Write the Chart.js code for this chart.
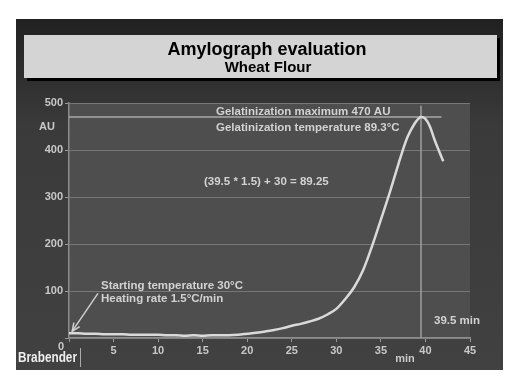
<!DOCTYPE html>
<html>
<head>
<meta charset="utf-8">
<script src="https://cdn.jsdelivr.net/npm/chart.js@4/dist/chart.umd.min.js"></script>
<style>
  html, body { margin: 0; padding: 0; background: #fff; }
  #wrap { width: 517px; height: 386px; }
</style>
</head>
<body>
<div id="wrap"><canvas id="AMYLOGRAPH"></canvas></div>
<script>
// data
var timeMin = [0, 1, 2, 3, 4, 5, 6, 7, 8, 9, 10, 11, 12, 13, 14, 15, 16, 17, 18, 19, 20,
    21, 22, 23, 24, 25, 26, 27, 28, 29, 30, 31, 32, 33, 34, 35, 36, 37, 37.5, 38, 38.5,
    39, 39.5, 40, 40.5, 41, 41.5, 42];
var viscosityAU = [10, 10, 9, 9, 8, 8, 8, 7, 7, 7, 7, 6, 6, 5, 6, 5, 6, 6, 6, 7, 9,
    11, 14, 17, 21, 26, 30, 35, 41, 50, 62, 83, 108, 144, 195, 252, 310, 372, 402, 428, 447,
    462, 470, 466, 450, 423, 399, 376];
var xTicks = [0, 5, 10, 15, 20, 25, 30, 35, 40, 45];
var yTicks = [0, 100, 200, 300, 400, 500];
var peakTime = 39.5;
var peakValue = 470;
var peakLineEnd = 41.8;   // horizontal max line stops here (min)
var peakLineTop = 494;    // vertical line top (AU)
var arrowFrom = [3.25, 95];
var arrowTo = [0.35, 14];

var curvePoints = timeMin.map((t, i) => ({ x: t, y: viscosityAU[i] }));

// background panel, title box, plot area
var panelPlugin = {
    id: 'panel',
    beforeDraw(chart) {
        const c = chart.ctx;
        const a = chart.chartArea;
        c.save();
        c.fillStyle = '#ffffff';
        c.fillRect(0, 0, chart.width, chart.height);
        var g = c.createLinearGradient(0, 19, 0, 370);
        g.addColorStop(0, '#212121');
        g.addColorStop(0.3, '#3a3a3a');
        g.addColorStop(1, '#414141');
        c.fillStyle = g;
        c.fillRect(16, 19, 487, 351);
        // title box with shadow
        c.fillStyle = '#000000';
        c.fillRect(27, 38, 473, 43);
        c.fillStyle = '#d4d4d4';
        c.fillRect(24, 35, 473, 43);
        c.fillStyle = '#000000';
        c.textAlign = 'center';
        c.textBaseline = 'middle';
        c.font = 'bold 18px "Liberation Sans", Arial, sans-serif';
        c.fillText('Amylograph evaluation', 267, 50);
        c.font = 'bold 15px "Liberation Sans", Arial, sans-serif';
        c.fillText('Wheat Flour', 268, 68);
        // plot background
        c.fillStyle = '#4e4e4e';
        c.fillRect(a.left, a.top, a.right - a.left, a.bottom - a.top);
        c.restore();
    },
    afterDraw(chart) {
        const c = chart.ctx;
        const xs = chart.scales.x, ys = chart.scales.y;
        c.save();
        c.fillStyle = '#d2d2d2';
        c.textBaseline = 'middle';
        c.textAlign = 'left';
        c.font = 'bold 11.5px "Liberation Sans", Arial, sans-serif';
        c.fillText('Gelatinization maximum 470 AU', 216, 112);
        c.fillText('Gelatinization temperature 89.3°C', 216, 128);
        c.fillText('(39.5 * 1.5) + 30 = 89.25', 204, 182);
        c.fillText('Starting temperature 30°C', 101, 286);
        c.fillText('Heating rate 1.5°C/min', 101, 299);
        c.fillText('39.5 min', 434, 321);
        c.font = 'bold 11px "Liberation Sans", Arial, sans-serif';
        c.fillStyle = '#c8c8c8';
        c.fillText('AU', 39, 127);
        c.textAlign = 'center';
        c.fillText('min', 405, 359);
        c.fillText('0', 61, 347);
        // Brabender logo text, squeezed to its width
        c.textAlign = 'left';
        c.fillStyle = '#eeeeee';
        c.font = 'bold 15px "Liberation Sans", Arial, sans-serif';
        var w = c.measureText('Brabender').width;
        c.save();
        c.translate(18, 358);
        c.scale(59 / w, 1);
        c.fillText('Brabender', 0, 0);
        c.restore();
        c.strokeStyle = '#aaaaaa';
        c.lineWidth = 1;
        c.beginPath();
        c.moveTo(80.5, 348);
        c.lineTo(80.5, 367);
        c.stroke();
        // arrow
        var x1 = xs.getPixelForValue(arrowFrom[0]), y1 = ys.getPixelForValue(arrowFrom[1]);
        var x2 = xs.getPixelForValue(arrowTo[0]), y2 = ys.getPixelForValue(arrowTo[1]);
        c.strokeStyle = '#cfcfcf';
        c.lineWidth = 1.5;
        c.beginPath();
        c.moveTo(x1, y1);
        c.lineTo(x2, y2);
        c.stroke();
        var ang = Math.atan2(y2 - y1, x2 - x1);
        c.beginPath();
        c.moveTo(x2 - 9 * Math.cos(ang - 0.4), y2 - 9 * Math.sin(ang - 0.4));
        c.lineTo(x2, y2);
        c.lineTo(x2 - 9 * Math.cos(ang + 0.4), y2 - 9 * Math.sin(ang + 0.4));
        c.stroke();
        c.restore();
    }
};

var ctx = document.getElementById('AMYLOGRAPH').getContext('2d');
var myChart = new Chart(ctx, {
    type: 'scatter',
    data: {
        datasets: [{
            label: 'Viscosity',
            data: curvePoints,
            showLine: true,
            borderColor: '#dadada',
            borderWidth: 2.5,
            pointRadius: 0,
            cubicInterpolationMode: 'monotone'
        }, {
            label: 'Maximum',
            data: [{ x: 0, y: peakValue }, { x: peakLineEnd, y: peakValue }],
            showLine: true,
            borderColor: '#a8a8a8',
            borderWidth: 1.5,
            pointRadius: 0
        }, {
            label: 'Peak time',
            data: [{ x: peakTime, y: 0 }, { x: peakTime, y: peakLineTop }],
            showLine: true,
            borderColor: '#a0a0a0',
            borderWidth: 1.5,
            pointRadius: 0
        }]
    },
    options: {
        responsive: true,
        maintainAspectRatio: false,
        animation: false,
        layout: {
            padding: { left: 0, top: 103, right: 47, bottom: 0 }
        },
        plugins: {
            legend: { display: false },
            tooltip: { enabled: false }
        },
        scales: {
            x: {
                type: 'linear',
                min: 0,
                max: 45,
                afterFit: (scale) => { scale.height = 48; },
                afterBuildTicks: (scale) => { scale.ticks = xTicks.map(v => ({ value: v })); },
                ticks: {
                    color: '#c8c8c8',
                    padding: 2,
                    font: { family: '"Liberation Sans", Arial, sans-serif', size: 11, weight: 'bold' },
                    callback: (v) => v === 0 ? '' : v
                },
                grid: {
                    drawOnChartArea: false,
                    tickLength: 4,
                    tickColor: '#9a9a9a'
                },
                border: { color: '#8c8c8c', width: 1.5 }
            },
            y: {
                min: 0,
                max: 500,
                afterFit: (scale) => { scale.width = 69; },
                afterBuildTicks: (scale) => { scale.ticks = yTicks.map(v => ({ value: v })); },
                ticks: {
                    color: '#c8c8c8',
                    padding: 2,
                    font: { family: '"Liberation Sans", Arial, sans-serif', size: 11, weight: 'bold' },
                    callback: (v) => v === 0 ? '' : v
                },
                grid: {
                    color: '#777777',
                    tickLength: 4,
                    tickColor: '#9a9a9a'
                },
                border: { color: '#8c8c8c', width: 1.5 }
            }
        }
    },
    plugins: [panelPlugin]
});
</script>
</body>
</html>
